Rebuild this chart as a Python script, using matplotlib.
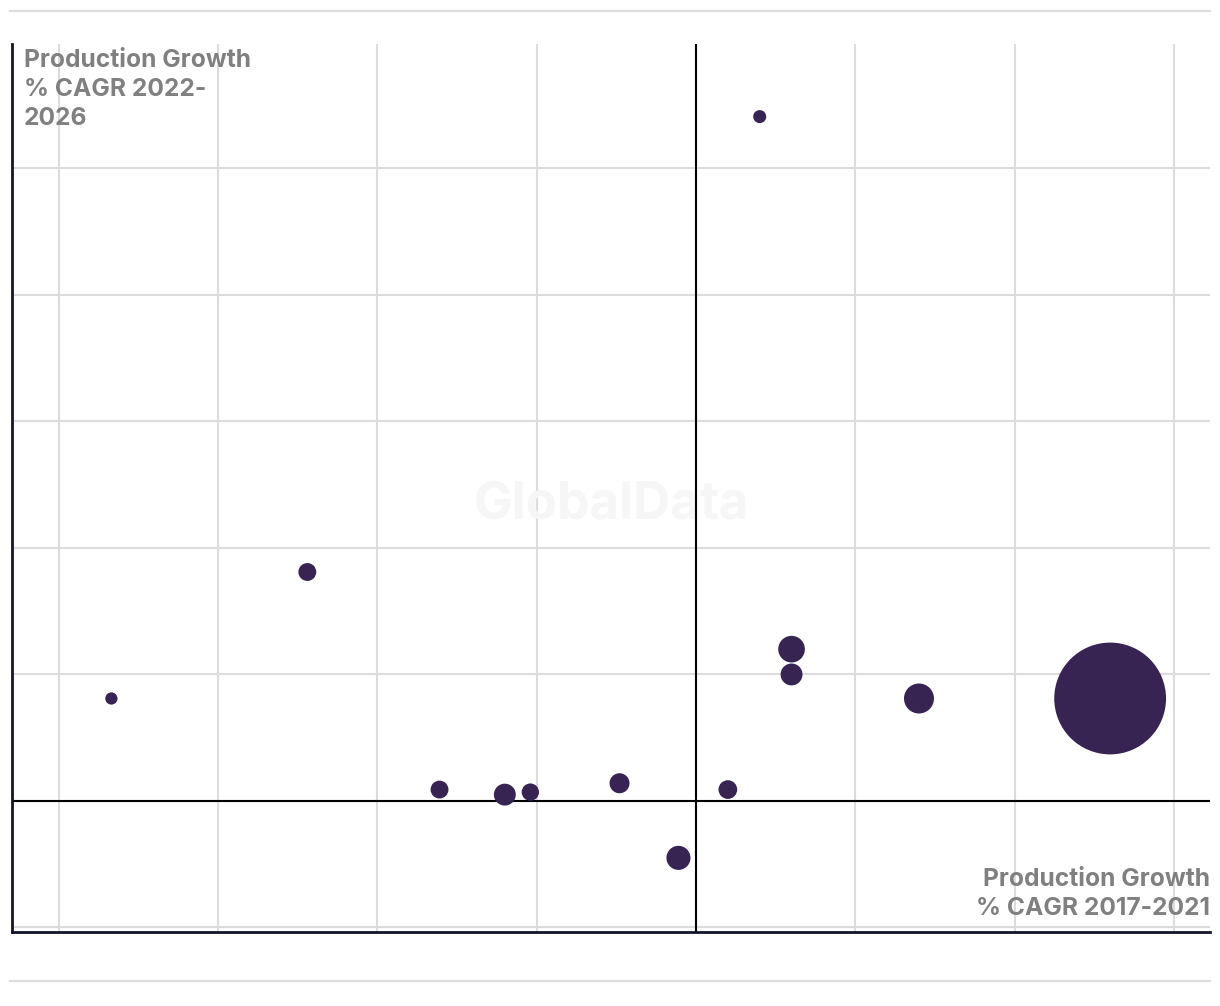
import numpy as np
import matplotlib
matplotlib.use('Agg')
import matplotlib.pyplot as plt
from matplotlib.lines import Line2D

# ---------------------------------------------
#               DATA
# ---------------------------------------------

# production growth, % CAGR 2017-2021 (x) and 2022-2026 (y)
cagr_2017_2021 = [0.40, -2.44, -3.67, -1.61, -1.20, -1.04, -0.48, -0.11, 0.20, 0.60, 0.60, 1.40, 2.60]
cagr_2022_2026 = [5.41, 1.81, 0.81, 0.09, 0.05, 0.07, 0.14, -0.45, 0.09, 1.20, 1.00, 0.81, 0.81]
# relative production volume (bubble area)
production = [1.7, 3.2, 1.5, 3.2, 4.8, 3.0, 4.0, 5.8, 3.5, 7.1, 4.8, 9.0, 125.0]

x_grid = [-4, -3, -2, -1, 0, 1, 2, 3]
y_grid = [-1, 0, 1, 2, 3, 4, 5]

BUBBLE = '#372452'
GRID = '#dcdcdc'
DARK = '#14142b'
LABEL = '#808080'

plt.rcParams['font.family'] = ['Inter', 'DejaVu Sans']

# ---------------------------------------------
#               CREATE GRAPH
# ---------------------------------------------

fig = plt.figure(figsize=(12.2, 10.06), dpi=100)
ax = fig.add_axes([12 / 1220, 74 / 1006, 1198 / 1220, 888 / 1006])

ax.set_xlim(-4.294, 3.227)
ax.set_ylim(-1.036, 5.984)

for gx in x_grid:
    ax.axvline(gx, color=GRID, lw=1.5, zorder=0)
for gy in y_grid:
    ax.axhline(gy, color=GRID, lw=1.5, zorder=0)

ax.axvline(0, color='black', lw=1.5, zorder=1)
ax.axhline(0, color='black', lw=1.5, zorder=1)

sizes = np.array(production) * 100 * 0.72 ** 2
ax.scatter(cagr_2017_2021, cagr_2022_2026, s=sizes, color=BUBBLE, linewidths=0, zorder=3)

for side in ['top', 'right']:
    ax.spines[side].set_visible(False)
for side in ['left', 'bottom']:
    ax.spines[side].set_color(DARK)
    ax.spines[side].set_linewidth(2)
ax.set_xticks([])
ax.set_yticks([])

# watermark
ax.text(0.5, 0.48, 'GlobalData', transform=ax.transAxes, ha='center', va='center',
        fontsize=37, fontweight='bold', color='#f6f6f6', zorder=0.5)

# axis titles
fig.text(24 / 1220, 1 - 49 / 1006, 'Production Growth\n% CAGR 2022-\n2026', ha='left', va='top',
         fontsize=17.7, fontweight='bold', color=LABEL, linespacing=1.33)
fig.text(1210 / 1220, 1 - 920 / 1006, 'Production Growth\n% CAGR 2017-2021', ha='right', va='bottom',
         fontsize=17.7, fontweight='bold', color=LABEL, linespacing=1.33)

# separators
fig.add_artist(Line2D([10 / 1220, 1210 / 1220], [1 - 11 / 1006, 1 - 11 / 1006], color=GRID, lw=1.5))
fig.add_artist(Line2D([10 / 1220, 1210 / 1220], [1 - 981 / 1006, 1 - 981 / 1006], color=GRID, lw=1.5))

plt.savefig('out.png', dpi=100)
